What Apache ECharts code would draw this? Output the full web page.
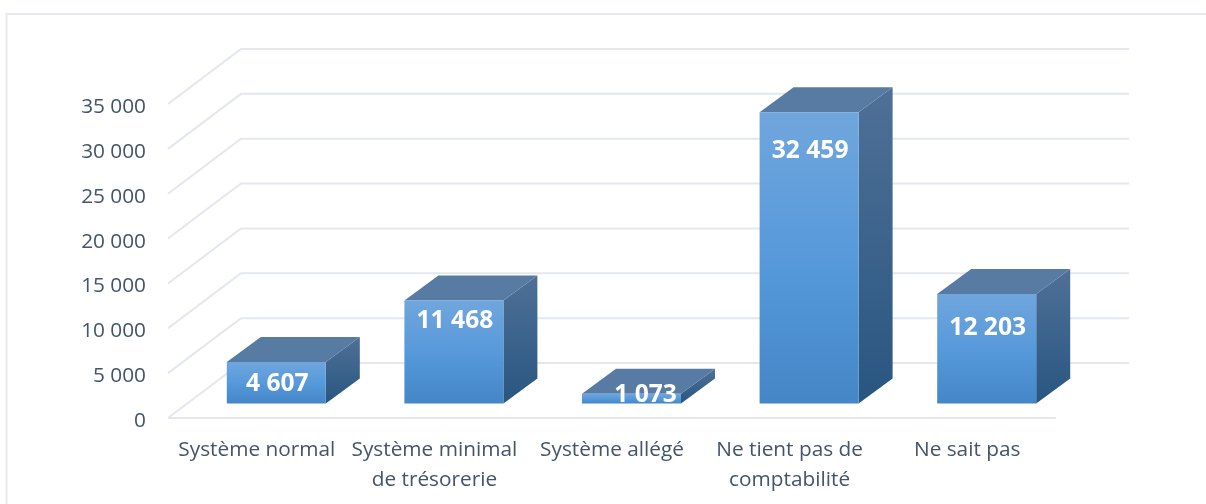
<!DOCTYPE html>
<html>
<head>
<meta charset="utf-8">
<style>html,body{margin:0;padding:0;background:#fff}#c{width:1206px;height:504px}</style>
<script src="https://cdn.jsdelivr.net/npm/echarts@6/dist/echarts.min.js"></script>
</head>
<body>
<div id="c"></div>
<script>
const categories = ['Système normal', 'Système minimal\nde trésorerie', 'Système allégé', 'Ne tient pas de\ncomptabilité', 'Ne sait pas'];
const values = [4607, 11468, 1073, 32459, 12203];
const yTicks = [0, 5000, 10000, 15000, 20000, 25000, 30000, 35000];

// manual value-label nudges of the original, relative to the bar's top-centre (px)
const labelNudgeX = [1, 1, 14, 1, 1];
const labelNudgeY = [22, 20, 1, 39, 34];

const fmt = v => String(v).replace(/\B(?=(\d{3})+$)/g, ' ');
const FONT = '"Open Sans", sans-serif';
const INK = '#44546a';
const GRID = '#e4e7ee';
const WALL = {dx: 73, dy: -55};
const BAR = {dx: 34, dy: -25, inX: 19.5, inY: -14.6, w: 99};

function renderGrid(params, api) {
  const cs = params.coordSys;
  const y = api.coord([0, api.value(1)])[1];
  const style = {stroke: GRID, lineWidth: 2, fill: null};
  const kids = [{
    type: 'polyline', silent: true,
    shape: {points: [[cs.x, y], [cs.x + WALL.dx, y + WALL.dy], [cs.x + cs.width + WALL.dx, y + WALL.dy]]},
    style
  }];
  if (api.value(1) === 0) {
    kids.push({type: 'line', silent: true,
      shape: {x1: cs.x, y1: y, x2: cs.x + cs.width, y2: y}, style});
  }
  return {type: 'group', children: kids};
}

function renderBar(params, api) {
  const i = api.value(0), v = api.value(1);
  const cx = api.coord([i, 0])[0] + BAR.inX;
  const yb = api.coord([i, 0])[1] + BAR.inY;
  const yt = api.coord([i, v])[1] + BAR.inY;
  const l = cx - BAR.w / 2, r = cx + BAR.w / 2;
  const d = BAR.dx, e = BAR.dy;
  return {type: 'group', children: [
    {type: 'polygon', shape: {points: [[r, yt], [r + d, yt + e], [r + d, yb + e], [r, yb]]},
      style: {fill: {type: 'linear', x: 0, y: 0, x2: 0, y2: 1, colorStops: [
        {offset: 0, color: '#4f7097'}, {offset: 1, color: '#285681'}]}}},
    {type: 'polygon', shape: {points: [[l, yt], [l + d, yt + e], [r + d, yt + e], [r, yt]]},
      style: {fill: '#587ba3'}},
    {type: 'rect', shape: {x: l, y: yt, width: BAR.w, height: yb - yt},
      style: {fill: {type: 'linear', x: 0, y: 0, x2: 0, y2: 1, colorStops: [
        {offset: 0, color: '#70a6dd'}, {offset: 0.55, color: '#5598da'}, {offset: 1, color: '#4486c6'}]}}},
    {type: 'text', z2: 10,
      x: cx + labelNudgeX[i], y: yt + labelNudgeY[i],
      style: {text: fmt(v), fill: '#fff', font: 'bold 24.6px ' + FONT, align: 'center', verticalAlign: 'middle'}}
  ]};
}

const chart = echarts.init(document.getElementById('c'), null, {renderer: 'canvas'});
chart.setOption({
  animation: false,
  backgroundColor: '#fff',
  grid: {left: 168, right: 150, top: 104, bottom: 86, containLabel: false},
  xAxis: {
    type: 'category', data: categories,
    axisLine: {show: false}, axisTick: {show: false}, splitLine: {show: false},
    axisLabel: {color: INK, fontFamily: FONT, fontSize: 20.8, lineHeight: 30, margin: 17, interval: 0, hideOverlap: false}
  },
  yAxis: {
    type: 'value', min: 0, max: 35000, interval: 5000,
    axisLine: {show: false}, axisTick: {show: false}, splitLine: {show: false},
    axisLabel: {color: INK, fontFamily: FONT, fontSize: 20.8, margin: 22, verticalAlign: 'top', lineHeight: 6, formatter: fmt}
  },
  graphic: [{
    type: 'polyline', silent: true,
    shape: {points: [[6.5, 504], [6.5, 14], [1206, 14]]},
    style: {stroke: '#e6eaee', lineWidth: 2, fill: null}
  }],
  series: [
    {type: 'custom', name: 'grid', clip: false, z: 1, silent: true,
     data: yTicks.map(t => [0, t]), encode: {x: 0, y: 1}, renderItem: renderGrid},
    {type: 'custom', name: 'bars', clip: false, z: 2, silent: true,
     data: values.map((v, i) => [i, v]), encode: {x: 0, y: 1}, renderItem: renderBar}
  ]
});
</script>
</body>
</html>
